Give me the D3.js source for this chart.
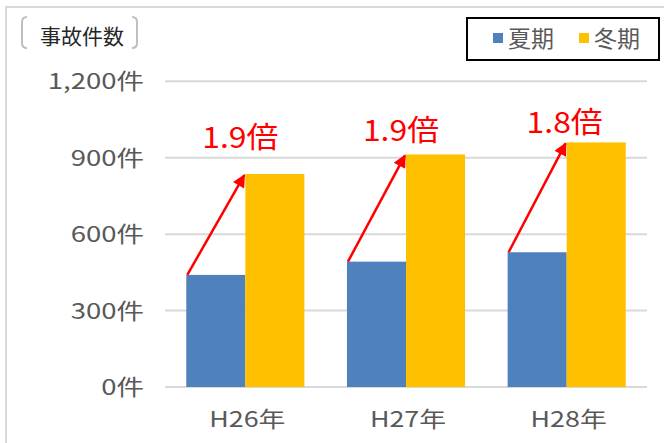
<!DOCTYPE html>
<html lang="ja">
   <head>
      <meta charset="utf-8">
      <title>事故件数</title>
      <style>
         body { margin: 0; background: #fff; }
         text { font-family: "Noto Sans CJK JP", "Noto Sans", sans-serif; }
         .tick-label { fill: #595959; font-size: 22px; }
         .ratio { fill: #ff0000; font-size: 29px; }
      </style>
      <script src="https://d3js.org/d3.v7.min.js"></script>
   </head>
   <body>
      <svg width="664" height="443"></svg>
      <script>
        // data
        var years = ["H26年", "H27年", "H28年"];
        var summer = [440, 492, 529];
        var winter = [836, 913, 960];
        var ratios = ["1.9倍", "1.9倍", "1.8倍"];
        var seriesNames = ["夏期", "冬期"];
        var seriesColors = ["#4f81bd", "#ffc000"];
        var yTicks = [0, 300, 600, 900, 1200];

        var svg = d3.select("svg");

        // the original font is wider than Noto, stretch a little
        function widen(sel, k) {
           sel.each(function() {
              var w = this.getComputedTextLength();
              d3.select(this)
                .attr("textLength", w * k)
                .attr("lengthAdjust", "spacingAndGlyphs");
           });
        }

        // outer frame
        svg.append("rect")
           .attr("x", 6).attr("y", 7)
           .attr("width", 670).attr("height", 450)
           .attr("fill", "none")
           .attr("stroke", "#d9d9d9")
           .attr("stroke-width", 2);

        var x0 = d3.scaleBand().domain(years).range([165, 647])
                   .paddingInner(0.265).paddingOuter(0.1325);
        var x1 = d3.scaleBand().domain([0, 1]).range([0, x0.bandwidth()]);
        var y = d3.scaleLinear().domain([0, 1200]).range([387, 81.3]);

        // gridlines
        svg.append("g").selectAll("line")
           .data(yTicks).enter().append("line")
           .attr("x1", 165).attr("x2", 647)
           .attr("y1", function(d) { return y(d); })
           .attr("y2", function(d) { return y(d); })
           .attr("stroke", "#d9d9d9")
           .attr("stroke-width", 2);

        // y axis labels
        svg.append("g").selectAll("text")
           .data(yTicks).enter().append("text")
           .attr("class", "tick-label")
           .attr("x", 144)
           .attr("y", function(d) { return y(d) + 8; })
           .attr("text-anchor", "end")
           .text(function(d) { return d3.format(",")(d) + "件"; })
           .call(widen, 1.25);

        // x axis labels
        svg.append("g").selectAll("text")
           .data(years).enter().append("text")
           .attr("class", "tick-label")
           .attr("x", function(d) { return x0(d) + x0.bandwidth() / 2 + 2; })
           .attr("y", 427)
           .attr("text-anchor", "middle")
           .text(function(d) { return d; })
           .call(widen, 1.22);

        // bars
        var groups = svg.append("g").selectAll("g")
           .data(years).enter().append("g")
           .attr("transform", function(d) { return "translate(" + x0(d) + ",0)"; });

        groups.selectAll("rect")
           .data(function(d, i) { return [summer[i], winter[i]]; })
           .enter().append("rect")
           .attr("x", function(d, j) { return x1(j); })
           .attr("y", function(d) { return y(d); })
           .attr("width", x1.bandwidth())
           .attr("height", function(d) { return y(0) - y(d); })
           .attr("fill", function(d, j) { return seriesColors[j]; });

        // arrows
        svg.append("defs").append("marker")
           .attr("id", "head")
           .attr("viewBox", "0 0 10 10")
           .attr("refX", 9).attr("refY", 5)
           .attr("markerUnits", "userSpaceOnUse")
           .attr("markerWidth", 16).attr("markerHeight", 13)
           .attr("orient", "auto")
           .append("path")
           .attr("d", "M0,0 L10,5 L0,10 Z")
           .attr("fill", "#ff0000");

        svg.append("g").selectAll("line")
           .data(years).enter().append("line")
           .attr("x1", function(d) { return x0(d) + 1; })
           .attr("y1", function(d, i) { return y(summer[i]); })
           .attr("x2", function(d) { return x0(d) + x1(1) - 1; })
           .attr("y2", function(d, i) { return y(winter[i]) + 1; })
           .attr("stroke", "#ff0000")
           .attr("stroke-width", 2.5)
           .attr("marker-end", "url(#head)");

        // ratio labels
        var labelLift = [26, 13, 9];
        svg.append("g").selectAll("text")
           .data(ratios).enter().append("text")
           .attr("class", "ratio")
           .attr("x", function(d, i) { return x0(years[i]) + x0.bandwidth() / 2 - (i == 2 ? 2 : 5); })
           .attr("y", function(d, i) { return y(winter[i]) - labelLift[i]; })
           .attr("text-anchor", "middle")
           .text(function(d) { return d; })
           .call(widen, 1.1);

        // axis title with brackets
        svg.append("text")
           .attr("x", 40).attr("y", 44)
           .attr("font-size", 21)
           .attr("fill", "#262626")
           .text("事故件数");
        svg.append("path")
           .attr("d", "M27,17 Q22,17 22,22 V43 Q22,48 27,48 M132,17 Q137,17 137,22 V43 Q137,48 132,48")
           .attr("fill", "none")
           .attr("stroke", "#bfbfbf")
           .attr("stroke-width", 2);

        // legend
        var legend = svg.append("g");
        legend.append("rect")
           .attr("x", 467).attr("y", 18)
           .attr("width", 192).attr("height", 42)
           .attr("fill", "#fff")
           .attr("stroke", "#000")
           .attr("stroke-width", 2);
        var legendX = [493, 579];
        seriesNames.forEach(function(name, i) {
           legend.append("rect")
              .attr("x", legendX[i]).attr("y", 33)
              .attr("width", 10).attr("height", 10)
              .attr("fill", seriesColors[i]);
           legend.append("text")
              .attr("x", legendX[i] + 15).attr("y", 47)
              .attr("font-size", 23)
              .attr("fill", "#595959")
              .text(name);
        });
      </script>
   </body>
</html>
